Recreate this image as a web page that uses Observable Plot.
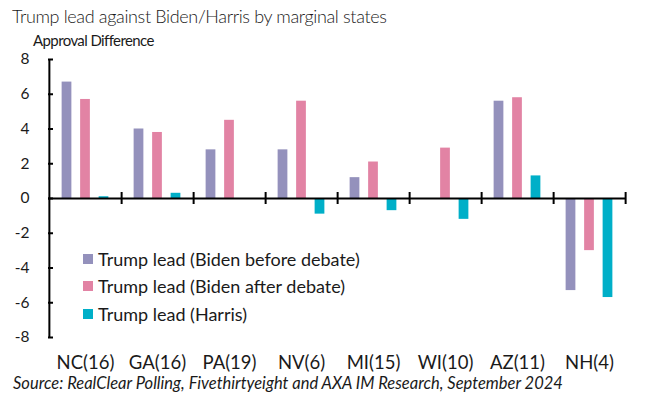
<!DOCTYPE html>
<html><head><meta charset="utf-8">
<script src="https://cdn.jsdelivr.net/npm/d3@7"></script>
<script src="https://cdn.jsdelivr.net/npm/@observablehq/plot@0.6"></script>
<style>
body{margin:0;background:#fff;}
#wrap{position:relative;width:655px;height:396px;font-family:Lato,"Open Sans",sans-serif;color:#1a1a1a;overflow:hidden;}
#wrap svg{position:absolute;left:0;top:0;}
.t{position:absolute;white-space:nowrap;line-height:1.2;}
#title{left:12px;top:6px;font-size:18px;font-weight:300;letter-spacing:-0.35px;}
#ylab{left:33px;top:31px;font-size:15px;letter-spacing:-0.6px;}
#caption{left:13px;top:374px;font-size:16.5px;font-style:italic;}
.lg{position:absolute;left:83px;display:flex;align-items:center;height:20px;font-size:18px;white-space:nowrap;}
.lg i{display:inline-block;width:10px;height:10px;margin-right:5px;}
</style></head><body><div id="wrap">
<div class="t" id="title">Trump lead against Biden/Harris by marginal states</div>
<div class="t" id="ylab">Approval Difference</div>
<div id="legend"></div>
<div class="t" id="caption">Source: RealClear Polling, Fivethirtyeight and AXA IM Research, September 2024</div>
</div>
<script>
const states = ["NC(16)","GA(16)","PA(19)","NV(6)","MI(15)","WI(10)","AZ(11)","NH(4)"];
const seriesNames = ["Trump lead (Biden before debate)","Trump lead (Biden after debate)","Trump lead (Harris)"];
const beforeDebate = [6.7, 4.0, 2.8, 2.8, 1.2, 0.0, 5.6, -5.3];
const afterDebate  = [5.7, 3.8, 4.5, 5.6, 2.1, 2.9, 5.8, -3.0];
const harris       = [0.1, 0.3, -0.05, -0.9, -0.7, -1.2, 1.3, -5.7];
const yTicks = [-8, -6, -4, -2, 0, 2, 4, 6, 8];
const colors = ["#9491bc", "#e283a4", "#00afc8"];

const W = 655, H = 396;
const mL = 48, mR = 29, mT = 59, mB = 59;
const plotW = W - mL - mR, plotH = H - mT - mB;
const step = plotW / states.length;
const barW = 10, gap = 18.5;
const pxPerUnit = plotH / 16;
const tickLen = 6 / pxPerUnit;

const seriesValues = [beforeDebate, afterDebate, harris];
const rows = [];
seriesValues.forEach((vals, si) => vals.forEach((v, i) => rows.push({state: states[i], series: si, value: v})));

const barMarks = seriesValues.map((_, si) => Plot.barY(rows.filter(r => r.series === si), {
  x: "state", y: "value", fill: colors[si],
  dx: (si - 1) * gap,
  insetLeft: (step - barW) / 2, insetRight: (step - barW) / 2
}));

const chart = Plot.plot({
  width: W, height: H,
  marginLeft: mL, marginRight: mR, marginTop: mT, marginBottom: mB,
  style: {fontFamily: "Lato, 'Open Sans', sans-serif", color: "#1a1a1a", background: "transparent"},
  x: {domain: states, padding: 0, label: null},
  y: {domain: [-8, 8], label: null},
  marks: [
    ...barMarks,
    Plot.ruleY([0], {stroke: "black", strokeWidth: 2}),
    Plot.ruleX([states[0]], {x: d => d, dx: -step / 2, y1: -8, y2: 8, stroke: "black", strokeWidth: 2}),
    Plot.ruleX(states, {x: d => d, dx: step / 2, y1: -tickLen, y2: tickLen, stroke: "black", strokeWidth: 2}),
    Plot.tickY(yTicks, {y: d => d, insetRight: plotW - 5, stroke: "black", strokeWidth: 2}),
    Plot.axisY({ticks: yTicks, tickSize: 0, tickPadding: 19, fontSize: 15.5, tickFormat: d => String(d)}),
    Plot.axisX({tickSize: 0, tickPadding: 18, fontSize: 18.5, y: null})
  ]
});
document.getElementById("wrap").prepend(chart);

const legend = document.getElementById("legend");
const legTops = [248.5, 276, 303.5];
seriesNames.forEach((name, i) => {
  const d = document.createElement("div");
  d.className = "lg";
  d.style.top = legTops[i] + "px";
  d.innerHTML = `<i style="background:${colors[i]}"></i><span>${name}</span>`;
  legend.appendChild(d);
});
</script>
</body></html>
